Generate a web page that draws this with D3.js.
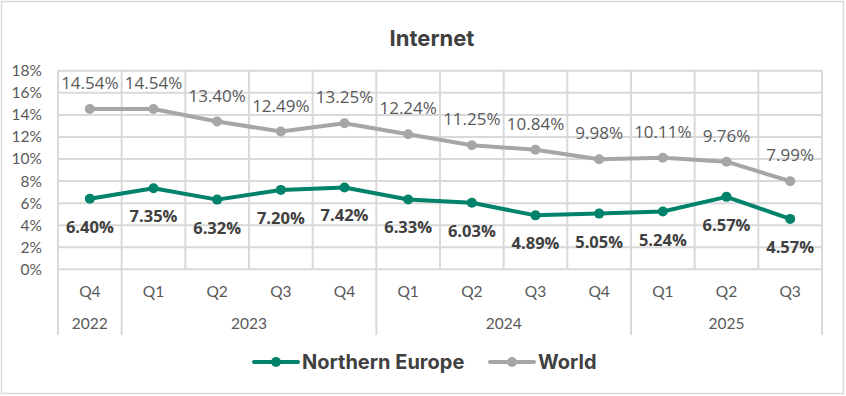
<!DOCTYPE html>
<html>
<head>
<meta charset="utf-8">
<script src="https://cdn.jsdelivr.net/npm/d3@7"></script>
<style>
  body { margin: 0; background: #fff; }
  svg { display: block; }
</style>
</head>
<body>
<div id="chart"></div>
<script>
// data
var quarters = ["Q4", "Q1", "Q2", "Q3", "Q4", "Q1", "Q2", "Q3", "Q4", "Q1", "Q2", "Q3"]
var years = ["2022", "2023", "2023", "2023", "2023", "2024", "2024", "2024", "2024", "2025", "2025", "2025"]
var northernEurope = [6.40, 7.35, 6.32, 7.20, 7.42, 6.33, 6.03, 4.89, 5.05, 5.24, 6.57, 4.57]
var world = [14.54, 14.54, 13.40, 12.49, 13.25, 12.24, 11.25, 10.84, 9.98, 10.11, 9.76, 7.99]
var yTicks = [0, 2, 4, 6, 8, 10, 12, 14, 16, 18]

var width = 846,
    height = 396
var plot = {left: 58, right: 822, top: 70.8, bottom: 269.3}

var green = "#00826B",
    grey = "#A6A6A6",
    gridColor = "#D9D9D9",
    textColor = "#595959",
    darkText = "#404040"

var svg = d3.select("#chart")
  .append("svg")
    .attr("width", width)
    .attr("height", height)

// outer border
svg.append("rect")
  .attr("x", 1.5).attr("y", 1.5)
  .attr("width", 842).attr("height", 392)
  .attr("fill", "#fff")
  .attr("stroke", gridColor)
  .attr("stroke-width", 1.5)

var idx = d3.range(quarters.length)

var x = d3.scaleBand()
  .domain(idx)
  .range([plot.left, plot.right])

var y = d3.scaleLinear()
  .domain([0, 18])
  .range([plot.bottom, plot.top])

var cx = function(i) { return x(i) + x.bandwidth() / 2 }

// horizontal gridlines
svg.append("g")
  .selectAll("line")
  .data(yTicks)
  .enter()
  .append("line")
    .attr("x1", plot.left)
    .attr("x2", plot.right)
    .attr("y1", function(d) { return y(d) })
    .attr("y2", function(d) { return y(d) })
    .attr("stroke", gridColor)
    .attr("stroke-width", 2)

// vertical gridlines, year boundaries run down through the labels
var bounds = d3.range(quarters.length + 1)
svg.append("g")
  .selectAll("line")
  .data(bounds)
  .enter()
  .append("line")
    .attr("x1", function(i) { return i < quarters.length ? x(i) : plot.right })
    .attr("x2", function(i) { return i < quarters.length ? x(i) : plot.right })
    .attr("y1", plot.top)
    .attr("y2", function(i) {
      var isYearEdge = i == 0 || i == quarters.length || years[i] != years[i - 1]
      return isYearEdge ? 335 : plot.bottom
    })
    .attr("stroke", gridColor)
    .attr("stroke-width", 2)

// y axis labels
var yAxis = svg.append("g")
  .attr("transform", "translate(" + plot.left + ",0)")
  .call(d3.axisLeft(y).tickValues(yTicks).tickFormat(function(d) { return d + "%" }).tickSize(0).tickPadding(16))
yAxis.select(".domain").remove()
yAxis.selectAll("text")
  .attr("fill", textColor)
  .style("font-family", "Lato, 'Noto Sans', sans-serif")
  .style("font-size", "15.5px")

// quarter labels
var xAxis = svg.append("g")
  .attr("transform", "translate(0," + plot.bottom + ")")
  .call(d3.axisBottom(x).tickFormat(function(i) { return quarters[i] }).tickSize(0).tickPadding(17))
xAxis.select(".domain").remove()
xAxis.selectAll("text")
  .attr("fill", textColor)
  .style("font-family", "Lato, 'Noto Sans', sans-serif")
  .style("font-size", "15.5px")

// year labels, centred over each group
var groups = d3.groups(idx, function(i) { return years[i] })
svg.append("g")
  .selectAll("text")
  .data(groups)
  .enter()
  .append("text")
    .attr("x", function(g) {
      var first = g[1][0], last = g[1][g[1].length - 1]
      return (x(first) + x(last) + x.bandwidth()) / 2
    })
    .attr("y", 329)
    .attr("text-anchor", "middle")
    .attr("fill", textColor)
    .style("font-family", "Lato, 'Noto Sans', sans-serif")
    .style("font-size", "15.5px")
    .text(function(g) { return g[0] })

// lines
var line = d3.line()
  .x(function(d, i) { return cx(i) })
  .y(function(d) { return y(d) })

var series = [
  {name: "World", values: world, color: grey},
  {name: "Northern Europe", values: northernEurope, color: green}
]

series.forEach(function(s) {
  svg.append("path")
    .datum(s.values)
    .attr("d", line)
    .attr("fill", "none")
    .attr("stroke", s.color)
    .attr("stroke-width", 4)
    .attr("stroke-linejoin", "round")
  svg.append("g")
    .selectAll("circle")
    .data(s.values)
    .enter()
    .append("circle")
      .attr("cx", function(d, i) { return cx(i) })
      .attr("cy", function(d) { return y(d) })
      .attr("r", 5)
      .attr("fill", s.color)
})

// data labels: world above, northern europe below
svg.append("g")
  .selectAll("text")
  .data(world)
  .enter()
  .append("text")
    .attr("x", function(d, i) { return cx(i) })
    .attr("y", function(d) { return y(d) - 20 })
    .attr("text-anchor", "middle")
    .attr("fill", textColor)
    .style("font-family", "'Open Sans', sans-serif")
    .style("font-size", "17px")
    .text(function(d) { return d.toFixed(2) + "%" })

svg.append("g")
  .selectAll("text")
  .data(northernEurope)
  .enter()
  .append("text")
    .attr("x", function(d, i) { return cx(i) })
    .attr("y", function(d) { return y(d) + 34 })
    .attr("text-anchor", "middle")
    .attr("fill", darkText)
    .style("font-family", "'Open Sans', sans-serif")
    .style("font-weight", "bold")
    .style("font-size", "16.5px")
    .text(function(d) { return d.toFixed(2) + "%" })

// title
svg.append("text")
  .attr("x", 432)
  .attr("y", 46)
  .attr("text-anchor", "middle")
  .attr("fill", darkText)
  .style("font-family", "Inter, 'Noto Sans', sans-serif")
  .style("font-weight", "bold")
  .style("font-size", "22px")
  .text("Internet")

// legend
var legendItems = [
  {name: "Northern Europe", color: green, x: 254},
  {name: "World", color: grey, x: 490}
]
var legend = svg.append("g")
  .selectAll("g")
  .data(legendItems)
  .enter()
  .append("g")
    .attr("transform", function(d) { return "translate(" + d.x + ",362)" })
legend.append("line")
  .attr("x1", 0).attr("x2", 44)
  .attr("stroke", function(d) { return d.color })
  .attr("stroke-width", 4)
  .attr("stroke-linecap", "round")
legend.append("circle")
  .attr("cx", 22)
  .attr("r", 5)
  .attr("fill", function(d) { return d.color })
legend.append("text")
  .attr("x", 48)
  .attr("y", 7)
  .attr("fill", darkText)
  .style("font-family", "Inter, 'Noto Sans', sans-serif")
  .style("font-weight", "bold")
  .style("font-size", "20px")
  .text(function(d) { return d.name })
</script>
</body>
</html>
